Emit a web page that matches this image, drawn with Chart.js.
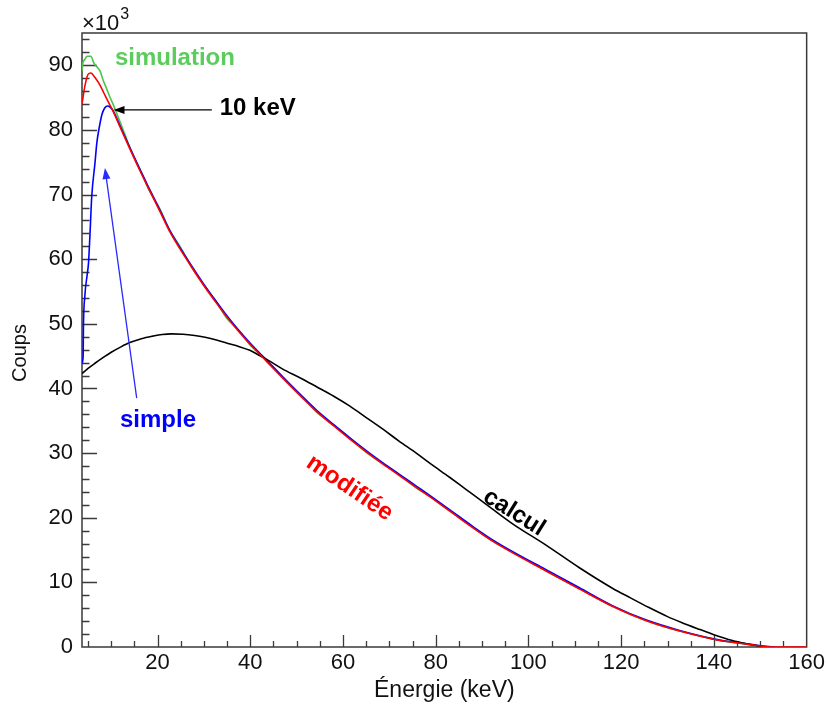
<!DOCTYPE html>
<html>
<head>
<meta charset="utf-8">
<script src="https://cdn.jsdelivr.net/npm/chart.js@4.4.1/dist/chart.umd.min.js"></script>
<style>
  html, body { margin: 0; padding: 0; background: #fff; }
</style>
</head>
<body>
<canvas id="chart" width="828" height="709"></canvas>
<script>
// Counts in units of 10^3, energy in keV

const xTicks = [20, 40, 60, 80, 100, 120, 140, 160];
const yTicks = [0, 10, 20, 30, 40, 50, 60, 70, 80, 90];

const energyModif = [3.7, 4.3, 5.0, 5.6, 6.5, 7.6, 8.5, 9.4, 10.4, 12.0, 14.0, 16.0, 18.3, 20.5, 22.6, 25.0, 27.5, 30.0, 32.5, 35.0, 37.5, 40.0, 43.5, 47.0, 51.3, 54.2, 58.0, 61.4, 65.0, 68.6, 72.0, 75.8, 79.0, 82.9, 87.9, 92.0, 96.5, 103.7, 110.9, 118.1, 125.3, 132.4, 139.6, 143.2, 147.0, 149.0, 151.0, 153.0, 160.0];
const countsModif = [84.0, 86.7, 88.6, 88.8, 88.1, 86.9, 85.6, 84.3, 82.9, 80.3, 77.1, 74.0, 70.6, 67.4, 64.3, 61.4, 58.6, 55.9, 53.4, 51.0, 48.8, 46.8, 44.2, 41.6, 38.5, 36.5, 34.2, 32.2, 30.2, 28.3, 26.6, 24.7, 23.1, 21.1, 18.5, 16.5, 14.6, 11.8, 9.0, 6.3, 4.1, 2.5, 1.25, 0.8, 0.45, 0.26, 0.08, 0.0, 0.0];

const energyCalcul = [3.7, 5.0, 6.5, 8.3, 10.0, 12.0, 14.0, 16.5, 19.0, 21.0, 23.0, 25.5, 28.0, 30.5, 32.7, 35.0, 37.5, 39.9, 42.0, 44.0, 47.0, 50.6, 54.2, 58.0, 61.4, 65.0, 68.6, 72.0, 75.8, 79.0, 82.9, 86.5, 90.1, 96.5, 103.7, 110.9, 118.1, 122.0, 126.0, 130.0, 133.0, 137.0, 140.0, 144.0, 147.0, 149.5, 151.0];
const countsCalcul = [42.3, 43.1, 43.9, 44.8, 45.6, 46.4, 47.1, 47.7, 48.1, 48.35, 48.45, 48.4, 48.2, 47.9, 47.5, 47.0, 46.5, 45.9, 45.1, 44.3, 43.0, 41.7, 40.3, 38.8, 37.3, 35.5, 33.7, 31.9, 30.0, 28.3, 26.3, 24.4, 22.5, 19.1, 15.8, 12.3, 9.1, 7.6, 6.1, 4.7, 3.8, 2.7, 1.9, 1.0, 0.5, 0.15, 0.0];

const energySimple = [3.7, 3.95, 4.0, 4.3, 4.8, 5.1, 5.4, 5.8, 6.5, 6.9, 7.4, 8.0, 8.6, 9.2, 9.8, 10.4, 12.0, 14.0, 16.0, 18.3, 20.5, 22.6, 25.0, 27.5, 30.0, 32.5, 35.0, 37.5, 40.0, 43.5, 47.0, 51.3, 54.2, 58.0, 61.4, 65.0, 68.6, 72.0, 75.8, 79.0, 82.9, 87.9, 92.0, 96.5, 103.7, 110.9, 118.1, 125.3, 132.4, 139.6, 143.2, 147.0, 149.0, 151.0, 153.0];
const countsSimple = [43.9, 45.0, 49.0, 54.2, 57.5, 59.4, 63.5, 69.7, 74.9, 78.0, 80.3, 82.4, 83.4, 83.7, 83.5, 83.0, 80.5, 77.3, 74.2, 70.8, 67.6, 64.5, 61.6, 58.8, 56.1, 53.6, 51.2, 49.0, 47.0, 44.4, 41.8, 38.7, 36.7, 34.4, 32.4, 30.4, 28.5, 26.8, 24.9, 23.3, 21.3, 18.7, 16.7, 14.8, 12.0, 9.2, 6.4, 4.2, 2.6, 1.3, 0.85, 0.5, 0.3, 0.1, 0.0];

const energySimul = [3.7, 3.9, 4.3, 4.8, 5.6, 6.3, 7.0, 7.6, 8.3, 9.0, 9.7, 10.4, 11.5, 13.0, 14.0, 16.0, 18.3, 20.5, 22.6, 25.0, 27.5, 30.0, 32.5, 35.0, 37.5, 40.0, 43.5, 47.0, 51.3, 54.2, 58.0, 61.4, 65.0, 68.6, 72.0, 75.8, 79.0, 82.9, 87.9, 92.0, 96.5, 103.7, 110.9, 118.1, 125.3, 132.4, 139.6, 143.2, 147.0, 149.0, 151.0, 153.0];
const countsSimul = [89.1, 90.4, 90.9, 91.4, 91.4, 90.3, 89.7, 89.1, 87.6, 86.4, 85.1, 84.0, 82.0, 79.2, 77.3, 74.2, 70.5, 67.8, 64.5, 61.8, 58.6, 56.0, 53.6, 50.8, 49.0, 46.7, 44.4, 41.7, 38.7, 36.4, 34.3, 32.4, 30.1, 28.4, 26.7, 24.6, 23.2, 21.1, 18.6, 16.5, 14.7, 11.8, 9.1, 6.3, 4.1, 2.5, 1.3, 0.8, 0.45, 0.25, 0.1, 0.0];

const FONT = "'Liberation Sans', Arial, sans-serif";

function points(xs, ys) {
  return xs.map((e, i) => ({ x: e, y: ys[i] }));
}

function line(label, xs, ys, color) {
  return {
    label,
    data: points(xs, ys),
    borderColor: color,
    backgroundColor: color,
    borderWidth: 1.6,
    pointRadius: 0,
    cubicInterpolationMode: 'monotone',
    fill: false,
  };
}

// ROOT-like frame with inward ticks
const frameTicks = {
  id: 'frameTicks',
  beforeDatasetsDraw(chart) {
    const { ctx, chartArea: a, scales: { x, y } } = chart;
    ctx.save();
    ctx.strokeStyle = '#3a3a3a';
    ctx.lineWidth = 1.5;
    ctx.strokeRect(a.left, a.top, a.right - a.left, a.bottom - a.top);
    ctx.lineWidth = 1.3;
    ctx.beginPath();
    for (let v = 2; v < y.max; v += 2) {
      const py = Math.round(y.getPixelForValue(v)) + 0.5;
      const len = v % 10 === 0 ? 15 : 7.5;
      ctx.moveTo(a.left, py);
      ctx.lineTo(a.left + len, py);
    }
    for (let v = 5; v < x.max; v += 5) {
      if (v <= x.min) continue;
      const px = Math.round(x.getPixelForValue(v)) + 0.5;
      const len = v % 20 === 0 ? 12 : 6;
      ctx.moveTo(px, a.bottom);
      ctx.lineTo(px, a.bottom - len);
    }
    ctx.stroke();
    ctx.restore();
  },
};

function arrow(ctx, x1, y1, x2, y2, color) {
  const ang = Math.atan2(y2 - y1, x2 - x1);
  const hl = 11, hw = 4;
  ctx.strokeStyle = color;
  ctx.fillStyle = color;
  ctx.lineWidth = 1.3;
  ctx.beginPath();
  ctx.moveTo(x1, y1);
  ctx.lineTo(x2 - Math.cos(ang) * hl * 0.8, y2 - Math.sin(ang) * hl * 0.8);
  ctx.stroke();
  ctx.beginPath();
  ctx.moveTo(x2, y2);
  ctx.lineTo(x2 - Math.cos(ang) * hl - Math.sin(ang) * hw, y2 - Math.sin(ang) * hl + Math.cos(ang) * hw);
  ctx.lineTo(x2 - Math.cos(ang) * hl + Math.sin(ang) * hw, y2 - Math.sin(ang) * hl - Math.cos(ang) * hw);
  ctx.closePath();
  ctx.fill();
}

const labels = {
  id: 'labels',
  afterDraw(chart) {
    const { ctx, chartArea: a, scales: { x, y } } = chart;
    ctx.save();
    // x10^3 multiplier
    ctx.fillStyle = '#111';
    ctx.textBaseline = 'alphabetic';
    ctx.textAlign = 'left';
    ctx.font = '22px ' + FONT;
    ctx.fillText('\u00d710', a.left, 30);
    const w = ctx.measureText('\u00d710').width;
    ctx.font = '16px ' + FONT;
    ctx.fillText('3', a.left + w + 1, 19);

    // y axis title
    ctx.save();
    ctx.font = '20px ' + FONT;
    ctx.textAlign = 'center';
    ctx.textBaseline = 'middle';
    ctx.translate(20, 353);
    ctx.rotate(-Math.PI / 2);
    ctx.fillText('Coups', 0, 0);
    ctx.restore();

    ctx.font = 'bold 24px ' + FONT;
    ctx.textBaseline = 'middle';
    ctx.fillStyle = '#5ccc5c';
    ctx.fillText('simulation', x.getPixelForValue(10.8), y.getPixelForValue(91.0));

    ctx.fillStyle = '#000';
    ctx.fillText('10 keV', x.getPixelForValue(33.4), y.getPixelForValue(83.4));
    arrow(ctx, x.getPixelForValue(31.7), y.getPixelForValue(83.1),
      x.getPixelForValue(10.5), y.getPixelForValue(83.1), '#000');

    ctx.fillStyle = '#0000ff';
    ctx.fillText('simple', x.getPixelForValue(11.9), y.getPixelForValue(35.1));
    arrow(ctx, x.getPixelForValue(15.5), y.getPixelForValue(38.5),
      x.getPixelForValue(8.65), y.getPixelForValue(74.1), '#2a2aff');

    ctx.textAlign = 'center';
    ctx.save();
    ctx.translate(x.getPixelForValue(61.4), y.getPixelForValue(24.6));
    ctx.rotate(34 * Math.PI / 180);
    ctx.fillStyle = '#ff0000';
    ctx.fillText('modifi\u00e9e', 0, 0);
    ctx.restore();

    ctx.save();
    ctx.translate(x.getPixelForValue(96.9), y.getPixelForValue(20.8));
    ctx.rotate(32 * Math.PI / 180);
    ctx.fillStyle = '#000';
    ctx.fillText('calcul', 0, 0);
    ctx.restore();

    ctx.restore();
  },
};

new Chart(document.getElementById('chart'), {
  type: 'line',
  data: {
    datasets: [
      line('modifiée', energyModif, countsModif, '#ff0000'),
      line('calcul', energyCalcul, countsCalcul, '#000000'),
      line('simple', energySimple, countsSimple, '#0000ff'),
      line('simulation', energySimul, countsSimul, '#4cc44c'),
    ],
  },
  options: {
    responsive: false,
    animation: false,
    devicePixelRatio: 1,
    layout: { padding: { top: 33, right: 20, left: 0, bottom: 0 } },
    plugins: { legend: { display: false }, tooltip: { enabled: false } },
    scales: {
      x: {
        type: 'linear',
        min: 3.7,
        max: 160,
        grid: { display: false, drawTicks: false },
        border: { display: false },
        afterBuildTicks: (s) => { s.ticks = xTicks.map((v) => ({ value: v })); },
        afterFit: (s) => { s.height = 62; },
        ticks: { color: '#111', padding: 3, maxRotation: 0, font: { family: FONT, size: 22 } },
        title: {
          display: true,
          text: 'Énergie (keV)',
          color: '#111',
          font: { family: FONT, size: 23 },
          padding: { top: 0, bottom: 5 },
        },
      },
      y: {
        type: 'linear',
        min: 0,
        max: 95,
        grid: { display: false, drawTicks: false },
        border: { display: false },
        afterBuildTicks: (s) => { s.ticks = yTicks.map((v) => ({ value: v })); },
        afterFit: (s) => { s.width = 82; },
        ticks: { color: '#111', padding: 9, font: { family: FONT, size: 22 } },
      },
    },
  },
  plugins: [frameTicks, labels],
});
</script>
</body>
</html>
